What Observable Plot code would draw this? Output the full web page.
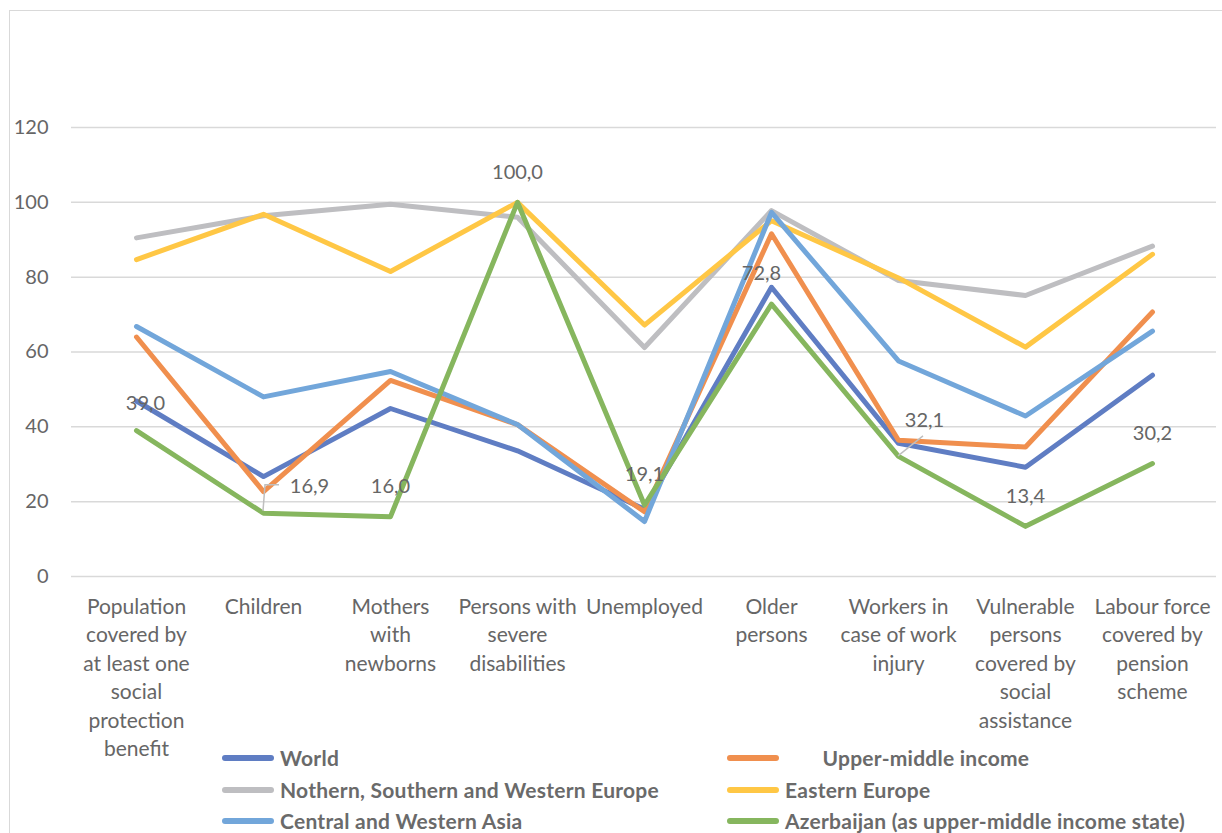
<!DOCTYPE html>
<html>
<head>
<meta charset="utf-8">
<script src="https://cdn.jsdelivr.net/npm/d3@7"></script>
<script src="https://cdn.jsdelivr.net/npm/@observablehq/plot@0.6"></script>
<style>
  html, body { margin: 0; padding: 0; background: #fff; }
  #wrap { position: relative; width: 1222px; height: 833px; overflow: hidden; font-family: Lato, "Open Sans", sans-serif; }
  #frame { position: absolute; left: 9px; top: 10px; width: 1230px; height: 900px; border-left: 1.5px solid #d9d9d9; border-top: 1.5px solid #d9d9d9; }
  #chart { position: absolute; left: 0; top: 0; }
  #legend { position: absolute; left: 0; top: 0; width: 1222px; height: 833px; pointer-events: none; }
  .item { position: absolute; display: flex; align-items: center; font-weight: bold; font-size: 21px; letter-spacing: 0.25px; color: #6a6a6a; white-space: pre; line-height: 22px; }
  .sw { width: 52px; height: 6px; border-radius: 3px; margin-right: 6px; }
</style>
</head>
<body>
<div id="wrap">
  <div id="frame"></div>
  <div id="chart"></div>
  <div id="legend"></div>
</div>
<script>
// ---- data ----
const categories = [
  "Population covered by at least one social protection benefit",
  "Children",
  "Mothers with newborns",
  "Persons with severe disabilities",
  "Unemployed",
  "Older persons",
  "Workers in case of work injury",
  "Vulnerable persons covered by social assistance",
  "Labour force covered by pension scheme"
];
const tickLabels = [
  "Population\ncovered by\nat least one\nsocial\nprotection\nbenefit",
  "Children",
  "Mothers\nwith\nnewborns",
  "Persons with\nsevere\ndisabilities",
  "Unemployed",
  "Older\npersons",
  "Workers in\ncase of work\ninjury",
  "Vulnerable\npersons\ncovered by\nsocial\nassistance",
  "Labour force\ncovered by\npension\nscheme"
];
const seriesNames = [
  "World",
  "Upper-middle income",
  "Nothern, Southern and Western Europe",
  "Eastern Europe",
  "Central and Western Asia",
  "Azerbaijan (as upper-middle income state)"
];
const world        = [46.9, 26.7, 44.9, 33.6, 18.0, 77.3, 35.6, 29.2, 53.8];
const upperMiddle  = [64.0, 22.7, 52.4, 40.6, 17.3, 91.6, 36.4, 34.6, 70.7];
const nswEurope    = [90.5, 96.4, 99.5, 96.0, 61.2, 97.8, 79.1, 75.1, 88.3];
const easternEurope= [84.7, 96.8, 81.5, 100.0, 67.2, 95.1, 79.8, 61.3, 86.1];
const cwAsia       = [66.8, 48.0, 54.8, 40.6, 14.7, 97.3, 57.6, 42.9, 65.6];
const azerbaijan   = [39.0, 16.9, 16.0, 100.0, 19.1, 72.8, 32.1, 13.4, 30.2];
const yTicks = [0, 20, 40, 60, 80, 100, 120];

const seriesValues = [world, upperMiddle, nswEurope, easternEurope, cwAsia, azerbaijan];
const colors = ["#5f7dc3", "#f08f4e", "#bebec1", "#ffc745", "#72a6da", "#86b65e"];

// long table built from the arrays
const rows = [];
seriesNames.forEach((s, si) => {
  categories.forEach((c, ci) => rows.push({series: s, category: c, value: seriesValues[si][ci]}));
});
const azRows = categories.map((c, ci) => ({category: c, value: azerbaijan[ci], label: azerbaijan[ci].toFixed(1).replace(".", ",")}));

// label nudges (styling only)
const nudges = {
  0: [9, -27],
  1: [46, -27],
  5: [-10, -31],
  6: [26, -36]
};
const labelMarks = azRows.map((r, i) => {
  const [dx, dy] = nudges[i] || [0, -30];
  return Plot.text([r], {x: "category", y: "value", text: "label", dx, dy,
    fill: "#666", fontSize: 20, fontFamily: "Lato, sans-serif"});
});

// leader lines for moved labels
const leaders = Plot.line([0], {x: () => categories[0], y: () => 0, render: (index, scales) => {
  const g = d3.create("svg:g").attr("stroke", "#bfbfbf").attr("stroke-width", 1.5).attr("fill", "none");
  const x1 = scales.x(categories[1]), y1 = scales.y(azerbaijan[1]);
  g.append("path").attr("d", `M${x1},${y1 - 2}L${x1 + 2},${y1 - 28}L${x1 + 16},${y1 - 28}`);
  const x6 = scales.x(categories[6]), y6 = scales.y(azerbaijan[6]);
  g.append("path").attr("d", `M${x6},${y6}L${x6 + 25},${y6 - 20}`);
  return g.node();
}});

const chart = Plot.plot({
  width: 1222,
  height: 833,
  marginLeft: 71,
  marginRight: 6,
  marginTop: 127,
  marginBottom: 257,
  style: {fontFamily: "Lato, sans-serif", fontSize: "20px", color: "#666", background: "transparent"},
  x: {type: "point", domain: categories, padding: 0.5},
  y: {domain: [0, 120]},
  color: {domain: seriesNames, range: colors},
  marks: [
    Plot.ruleY(yTicks, {stroke: "#d9d9d9", strokeWidth: 1.5}),
    Plot.axisY(yTicks, {tickSize: 0, tickPadding: 23, fontSize: 20, fill: "#666", label: null}),
    Plot.axisX({tickSize: 0, tickPadding: 17, fontSize: 21, fill: "#666", label: null, lineHeight: 1.357,
      tickFormat: d => tickLabels[categories.indexOf(d)], textAnchor: "middle"}),
    Plot.line(rows, {x: "category", y: "value", z: "series", stroke: "series",
      strokeWidth: 5, strokeLinejoin: "round", strokeLinecap: "round"}),
    leaders,
    ...labelMarks
  ]
});
document.getElementById("chart").appendChild(chart);

// legend
const legendPos = [
  [222, 758], [727, 758],
  [222, 790], [727, 790],
  [222, 821], [727, 821]
];
const legend = document.getElementById("legend");
seriesNames.forEach((s, i) => {
  const d = document.createElement("div");
  d.className = "item";
  d.style.left = legendPos[i][0] + "px";
  d.style.top = (legendPos[i][1] - 11) + "px";
  d.style.height = "22px";
  const sw = document.createElement("span");
  sw.className = "sw";
  sw.style.background = colors[i];
  const t = document.createElement("span");
  t.textContent = (i === 1 ? "       " : "") + s;
  d.appendChild(sw); d.appendChild(t);
  legend.appendChild(d);
});
</script>
</body>
</html>
